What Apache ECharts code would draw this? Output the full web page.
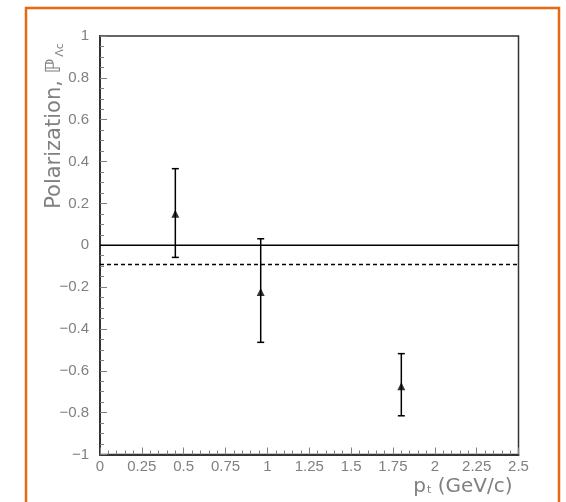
<!DOCTYPE html>
<html>
<head>
<meta charset="utf-8">
<script src="https://cdn.jsdelivr.net/npm/echarts@6/dist/echarts.min.js"></script>
<style>
html,body{margin:0;padding:0;background:#fff;}
#chart{width:566px;height:502px;}
</style>
</head>
<body>
<div id="chart"></div>
<script>
// ---- data ----
const ptValues = [0.45, 0.96, 1.80];
const polValues = [0.15, -0.224, -0.674];
const errLow = [-0.058, -0.464, -0.815];
const errHigh = [0.366, 0.031, -0.518];
const xRange = [0, 2.5];
const yRange = [-1, 1];
const zeroLineValue = 0;
const dashedLineValue = -0.092;
const xTickStep = 0.25;
const yTickStep = 0.2;

const pointData = ptValues.map((x, i) => [x, polValues[i]]);
const errData = ptValues.map((x, i) => [x, errLow[i], errHigh[i]]);
const zeroLine = [[xRange[0], zeroLineValue], [xRange[1], zeroLineValue]];
const dashedLine = [[xRange[0], dashedLineValue], [xRange[1], dashedLineValue]];

const chart = echarts.init(document.getElementById('chart'));
const tickFont = 'Liberation Sans';
const titleFont = 'DejaVu Sans';
const gray = '#808080';

function fmtNum(v) {
  const n = Number(Math.abs(v).toFixed(2));
  if (n === 0) return '0';
  return (v < 0 ? '\u2212' : '') + String(n);
}

chart.setOption({
  animation: false,
  backgroundColor: '#fff',
  grid: {left: 100, top: 36, right: 47.5, bottom: 47.5, show: true, borderColor: '#333', borderWidth: 1.5, backgroundColor: 'transparent'},
  xAxis: {
    type: 'value', min: xRange[0], max: xRange[1], interval: xTickStep,
    name: '{a|p}{s|t}{a| (GeV/c)}',
    nameLocation: 'end', nameGap: -6,
    nameTextStyle: {align: 'right', verticalAlign: 'top', padding: [20, 0, 0, 0],
      rich: {a: {fontFamily: titleFont, fontSize: 20, color: gray, lineHeight: 24},
             s: {fontFamily: titleFont, fontSize: 11, color: gray, lineHeight: 24, verticalAlign: 'bottom', padding: [0, 0, 3, 1]}}},
    axisLine: {show: true, onZero: false, lineStyle: {color: '#333', width: 2}},
    axisTick: {show: true, inside: true, length: 7, lineStyle: {color: gray, width: 1}},
    minorTick: {show: true, splitNumber: 5, length: 4, lineStyle: {color: gray, width: 1}},
    axisLabel: {fontFamily: tickFont, fontSize: 15, color: gray, margin: 5, formatter: fmtNum},
    splitLine: {show: false}
  },
  yAxis: {
    type: 'value', min: yRange[0], max: yRange[1], interval: yTickStep,
    axisLine: {show: true, onZero: false, lineStyle: {color: '#333', width: 2}},
    axisTick: {show: true, inside: true, length: 7, lineStyle: {color: gray, width: 1}},
    minorTick: {show: true, splitNumber: 4, length: 4, lineStyle: {color: gray, width: 1}},
    axisLabel: {fontFamily: tickFont, fontSize: 15, color: gray, margin: 11, formatter: fmtNum},
    splitLine: {show: false}
  },
  graphic: [
    {type: 'rect', shape: {x: 26, y: 8, width: 533, height: 520}, style: {fill: 'none', stroke: '#e8680f', lineWidth: 2.5}, silent: true},
    {type: 'text', x: 55, y: 126, rotation: Math.PI / 2,
     style: {text: '{a|Polarization, \u2119}{s|\u039Bc}', align: 'center', verticalAlign: 'middle',
       rich: {a: {fontFamily: titleFont, fontSize: 21, fill: gray, lineHeight: 26},
              s: {fontFamily: titleFont, fontSize: 11, fill: gray, lineHeight: 26, verticalAlign: 'bottom', padding: [0, 0, 2, 2]}}}}
  ],
  series: [
    {type: 'line', data: zeroLine, symbol: 'none', lineStyle: {color: '#000', width: 1.5}, z: 2},
    {type: 'line', data: dashedLine, symbol: 'none', lineStyle: {color: '#000', width: 1.5, type: [4, 3]}, z: 2},
    {type: 'custom', data: errData, z: 3,
     renderItem: function (params, api) {
       const x = api.value(0);
       const lo = api.coord([x, api.value(1)]);
       const hi = api.coord([x, api.value(2)]);
       const cap = 3.5;
       const st = {stroke: '#000', lineWidth: 1.5};
       return {type: 'group', children: [
         {type: 'line', shape: {x1: lo[0], y1: lo[1], x2: hi[0], y2: hi[1]}, style: st},
         {type: 'line', shape: {x1: lo[0] - cap, y1: lo[1], x2: lo[0] + cap, y2: lo[1]}, style: st},
         {type: 'line', shape: {x1: hi[0] - cap, y1: hi[1], x2: hi[0] + cap, y2: hi[1]}, style: st}
       ]};
     }},
    {type: 'scatter', data: pointData, symbol: 'triangle', symbolSize: [8, 8], itemStyle: {color: '#000'}, z: 4}
  ]
});
</script>
</body>
</html>
